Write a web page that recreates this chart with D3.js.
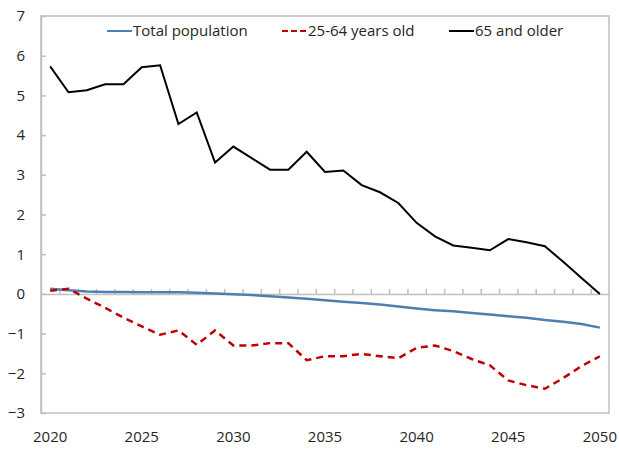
<!DOCTYPE html>
<html>
<head>
<meta charset="utf-8">
<script src="https://cdn.jsdelivr.net/npm/d3@7"></script>
<style>
    body { margin: 0; background: #fff; }
    svg text { font-family: "Open Sans", "Noto Sans", sans-serif; fill: #262626; }
</style>
</head>
<body>
<svg id="chart" width="619" height="449"></svg>
<script>
    // Data
    const years = d3.range(2020, 2051);
    const totalPopulation = [0.13, 0.09, 0.06, 0.05, 0.05, 0.04, 0.04, 0.04, 0.03, 0.01,
        -0.01, -0.03, -0.06, -0.09, -0.12, -0.16, -0.20, -0.23, -0.27, -0.32,
        -0.37, -0.41, -0.44, -0.48, -0.52, -0.56, -0.60, -0.66, -0.70, -0.76, -0.85];
    const working = [0.08, 0.13, -0.12, -0.35, -0.60, -0.82, -1.03, -0.92, -1.28, -0.92,
        -1.30, -1.30, -1.24, -1.24, -1.67, -1.57, -1.57, -1.51, -1.57, -1.62,
        -1.36, -1.30, -1.44, -1.64, -1.80, -2.18, -2.30, -2.39, -2.12, -1.82, -1.57];
    const older = [5.73, 5.08, 5.13, 5.28, 5.28, 5.71, 5.76, 4.28, 4.57, 3.31,
        3.71, 3.42, 3.13, 3.13, 3.58, 3.07, 3.11, 2.74, 2.56, 2.29,
        1.79, 1.45, 1.22, 1.16, 1.10, 1.38, 1.30, 1.20, 0.81, 0.40, 0.00];
    const yTicks = [-3, -2, -1, 0, 1, 2, 3, 4, 5, 6, 7];
    const xLabels = [2020, 2025, 2030, 2035, 2040, 2045, 2050];

    const series = [
        { name: 'Total population', values: totalPopulation, color: '#4E7FB2', width: 2.5, dash: null, legendDash: null },
        { name: '25-64 years old', values: working, color: '#C00000', width: 2.5, dash: '7,5', legendDash: '6,3' },
        { name: '65 and older', values: older, color: '#000000', width: 2, dash: null, legendDash: null }
    ];

    const plot = { left: 41, right: 609, top: 16, bottom: 413 };
    const gridColor = '#BFBFBF';

    const svg = d3.select('#chart');

    const x = d3.scaleBand().domain(years).range([plot.left, plot.right]);
    const xc = d => x(d) + x.bandwidth() / 2;
    const y = d3.scaleLinear().domain([-3, 7]).range([plot.bottom, plot.top]);

    // Plot border
    svg.append('rect')
        .attr('x', plot.left).attr('y', plot.top)
        .attr('width', plot.right - plot.left).attr('height', plot.bottom - plot.top)
        .attr('fill', 'none').attr('stroke', gridColor).attr('stroke-width', 1.5);

    // Y axis (inner ticks)
    const yAxis = svg.append('g')
        .attr('transform', `translate(${plot.left},0)`)
        .call(d3.axisLeft(y).tickValues(yTicks).tickSizeInner(-5).tickSizeOuter(0).tickPadding(16));
    yAxis.select('.domain').attr('stroke', gridColor).attr('stroke-width', 1.5);
    yAxis.selectAll('.tick line').attr('stroke', gridColor).attr('stroke-width', 1.5);
    yAxis.selectAll('.tick text').attr('font-size', 15).attr('fill', '#262626');

    // Zero line with category ticks between years
    const idx = d3.scaleLinear().domain([0, years.length]).range([plot.left, plot.right]);
    const zeroAxis = svg.append('g')
        .attr('transform', `translate(0,${y(0)})`)
        .call(d3.axisTop(idx).tickValues(d3.range(1, years.length)).tickSize(5).tickSizeOuter(0).tickFormat(''));
    zeroAxis.select('.domain').attr('stroke', gridColor).attr('stroke-width', 1.5);
    zeroAxis.selectAll('.tick line').attr('stroke', gridColor).attr('stroke-width', 1.5);

    // X labels at the bottom
    const xAxis = svg.append('g')
        .attr('transform', `translate(0,${plot.bottom})`)
        .call(d3.axisBottom(x).tickValues(xLabels).tickSize(0).tickPadding(18));
    xAxis.select('.domain').remove();
    xAxis.selectAll('.tick text').attr('font-size', 15).attr('fill', '#262626');

    // Lines
    const line = d3.line()
        .x((d, i) => xc(years[i]))
        .y(d => y(d));

    svg.append('g')
        .selectAll('path')
        .data(series)
        .join('path')
        .attr('d', d => line(d.values))
        .attr('fill', 'none')
        .attr('stroke', d => d.color)
        .attr('stroke-width', d => d.width)
        .attr('stroke-dasharray', d => d.dash)
        .attr('stroke-linejoin', 'miter');

    // Legend
    const legendX = [107, 282, 449];
    const legend = svg.append('g')
        .selectAll('g')
        .data(series)
        .join('g')
        .attr('transform', (d, i) => `translate(${legendX[i]},31)`);
    legend.append('line')
        .attr('x1', 0).attr('x2', 25)
        .attr('stroke', d => d.color)
        .attr('stroke-width', 2)
        .attr('stroke-dasharray', d => d.legendDash);
    legend.append('text')
        .attr('x', 26).attr('dy', '0.35em')
        .attr('font-size', 15)
        .text(d => d.name);
</script>
</body>
</html>
